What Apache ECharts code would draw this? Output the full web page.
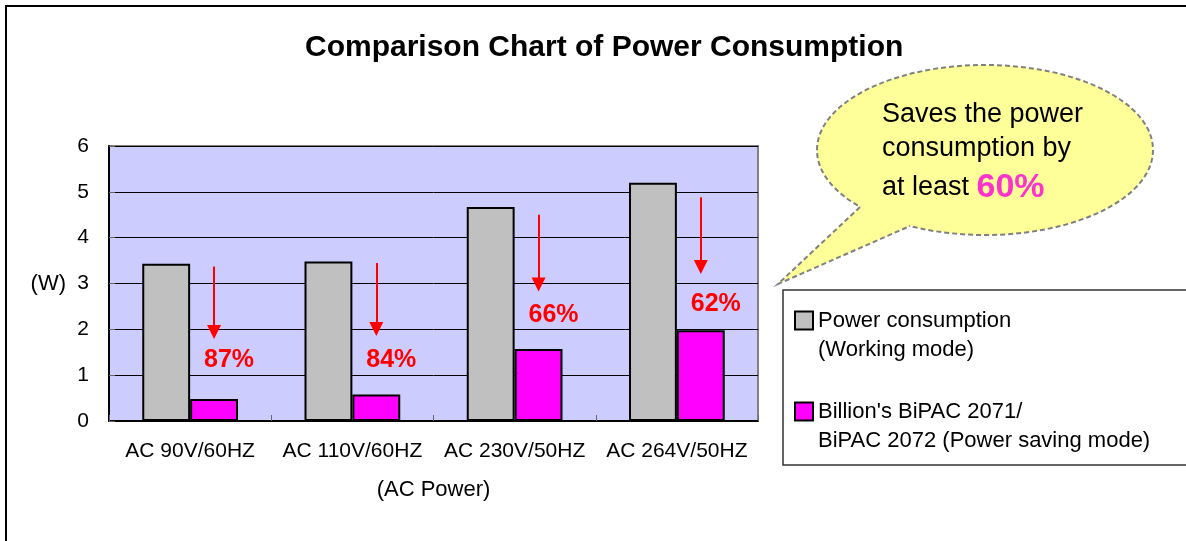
<!DOCTYPE html>
<html>
<head>
<meta charset="utf-8">
<title>Comparison Chart of Power Consumption</title>
<script src="https://cdn.jsdelivr.net/npm/echarts@6/dist/echarts.min.js"></script>
<style>
  html, body { margin: 0; padding: 0; background: #fff; }
  #main { width: 1186px; height: 541px; }
</style>
</head>
<body>
<div id="main"></div>
<script>
// data
const categories = ["AC 90V/60HZ", "AC 110V/60HZ", "AC 230V/50HZ", "AC 264V/50HZ"];
const workingMode = [3.43, 3.48, 4.67, 5.2];
const savingMode = [0.48, 0.58, 1.57, 1.98];
const savingText = ["87%", "84%", "66%", "62%"];
// red arrows above the saving bars: start value, arrow head value
const arrowFrom = [3.37, 3.45, 4.5, 4.88];
const arrowTo = [1.94, 2.01, 2.98, 3.36];
// height of the percentage labels
const labelAt = [1.33, 1.33, 2.32, 2.54];
const yTicks = [0, 1, 2, 3, 4, 5, 6];

const FONT = "'Liberation Sans', Arial, sans-serif";
const workingName = "Power consumption\n(Working mode)";
const savingName = "Billion's BiPAC 2071/\nBiPAC 2072 (Power saving mode)";

const chart = echarts.init(document.getElementById("main"));

const bubbleStyle = { fill: "#FFFF99", stroke: "#808080", lineWidth: 2, lineDash: [5, 3] };

const option = {
  animation: false,
  textStyle: { fontFamily: FONT },
  title: {
    text: "Comparison Chart of Power Consumption",
    left: 300,
    top: 28,
    textStyle: { fontFamily: FONT, fontSize: 30, fontWeight: "bold", color: "#000" }
  },
  legend: {
    orient: "vertical",
    left: 794,
    top: 277,
    padding: 0,
    itemGap: 4,
    itemWidth: 18,
    itemHeight: 18,
    itemTextGap: 5,
    icon: "rect",
    align: "left",
    selectedMode: false,
    data: [workingName, savingName],
    formatter: function(name) {
      // empty first line keeps the square level with the first text line
      return "\n" + name;
    },
    textStyle: { fontFamily: FONT, fontSize: 22, lineHeight: 29, color: "#000" }
  },
  grid: {
    left: 109,
    right: 428,
    top: 146,
    bottom: 120,
    show: true,
    backgroundColor: "#CCCCFF",
    borderColor: "#808080",
    borderWidth: 2
  },
  xAxis: {
    type: "category",
    data: categories,
    name: "(AC Power)",
    nameLocation: "middle",
    nameGap: 58,
    nameTextStyle: { fontFamily: FONT, fontSize: 22, color: "#000" },
    axisLine: { lineStyle: { color: "#000", width: 2 } },
    axisTick: { show: true, inside: true, interval: 0, length: 6, lineStyle: { color: "#666" } },
    axisLabel: { interval: 0, margin: 20, fontFamily: FONT, fontSize: 21, color: "#000" }
  },
  yAxis: {
    type: "value",
    min: yTicks[0],
    max: yTicks[yTicks.length - 1],
    interval: 1,
    name: "(W)",
    nameLocation: "middle",
    nameRotate: 0,
    nameGap: 43,
    nameTextStyle: { fontFamily: FONT, fontSize: 22, color: "#000" },
    axisLine: { show: true, lineStyle: { color: "#000", width: 2 } },
    axisTick: { show: true, inside: true, length: 6, lineStyle: { color: "#666" } },
    axisLabel: { margin: 20, fontFamily: FONT, fontSize: 21, color: "#000" },
    splitLine: { show: true, lineStyle: { color: "#000", width: 1 } }
  },
  series: [
    {
      name: workingName,
      type: "bar",
      data: workingMode,
      barGap: "0%",
      barCategoryGap: "41%",
      itemStyle: { color: "#C0C0C0", borderColor: "#000", borderWidth: 2 }
    },
    {
      name: savingName,
      type: "bar",
      data: savingMode,
      barGap: "0%",
      barCategoryGap: "41%",
      itemStyle: { color: "#FF00FF", borderColor: "#000", borderWidth: 2 },
      markLine: {
        silent: true,
        symbol: ["none", "triangle"],
        symbolSize: [14, 14],
        label: { show: false },
        lineStyle: { color: "#FF0000", width: 2, type: "solid" },
        itemStyle: { color: "#FF0000" },
        data: categories.map(function(c, i) {
          return [{ coord: [i, arrowFrom[i]] }, { coord: [i, arrowTo[i]] }];
        })
      },
      markPoint: {
        silent: true,
        symbol: "circle",
        symbolSize: 1,
        itemStyle: { color: "rgba(0,0,0,0)" },
        label: {
          show: true,
          position: "inside",
          offset: [15, 0],
          formatter: "{b}",
          fontFamily: FONT,
          fontSize: 25,
          fontWeight: "bold",
          color: "#FF0000"
        },
        data: categories.map(function(c, i) {
          return { name: savingText[i], coord: [i, labelAt[i]] };
        })
      }
    }
  ],
  graphic: [
    // outer frame
    {
      type: "rect",
      shape: { x: 6, y: 6, width: 1200, height: 600 },
      style: { fill: "none", stroke: "#000", lineWidth: 2 },
      silent: true
    },
    // legend box
    {
      type: "rect",
      shape: { x: 783, y: 290, width: 420, height: 175 },
      style: { fill: "#fff", stroke: "#333", lineWidth: 1.5 },
      z: -1,
      silent: true
    },
    // speech bubble: ellipse, then the tail drawn over its outline
    {
      type: "ellipse",
      shape: { cx: 985, cy: 150, rx: 168, ry: 85 },
      style: bubbleStyle,
      silent: true
    },
    {
      type: "polygon",
      shape: { points: [[860, 207], [778, 284], [910, 226], [902, 217], [868, 203]] },
      style: { fill: "#FFFF99" },
      silent: true
    },
    {
      type: "polyline",
      shape: { points: [[860, 207], [778, 284], [910, 226]] },
      style: { fill: null, stroke: "#808080", lineWidth: 2, lineDash: [5, 3] },
      silent: true
    },
    {
      type: "text",
      left: 882,
      top: 101,
      style: {
        text: "{a|Saves the power}\n{a|consumption by}\n{a|at least }{b|60%}",
        rich: {
          a: { fontFamily: FONT, fontSize: 27, lineHeight: 34, fill: "#000" },
          b: { fontFamily: FONT, fontSize: 34, fontWeight: "bold", lineHeight: 44, fill: "#FF33CC" }
        }
      },
      silent: true
    }
  ]
};

chart.setOption(option);
</script>
</body>
</html>
